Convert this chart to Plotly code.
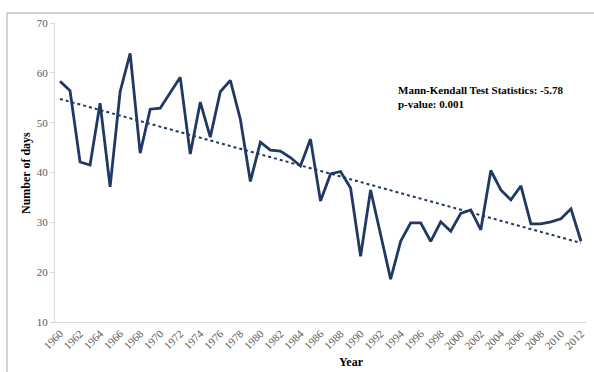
import numpy as np
import plotly.graph_objects as go

years = list(range(1960, 2013))
days = [
    58.3, 56.4, 42.1, 41.5, 53.9, 37.1, 56.2, 63.9, 43.9, 52.7,
    52.9, 56.0, 59.1, 43.7, 54.1, 47.1, 56.2, 58.5, 50.7, 38.2,
    46.1, 44.5, 44.3, 43.0, 41.3, 46.7, 34.3, 39.7, 40.2, 36.9,
    23.2, 36.5, 27.5, 18.6, 26.2, 29.9, 29.9, 26.2, 30.1, 28.2,
    31.8, 32.5, 28.5, 40.4, 36.5, 34.5, 37.3, 29.7, 29.7, 30.1,
    30.7, 32.7, 26.2,
]
tick_years = list(range(1960, 2013, 2))
stat_text = "Mann-Kendall Test Statistics: -5.78<br>p-value: 0.001"

navy = "#1F3864"
serif = "Liberation Serif"

# linear trend fitted to the series
slope, intercept = np.polyfit(years, days, 1)
trend = [slope * y + intercept for y in years]

fig = go.Figure()
fig.add_trace(go.Scatter(
    x=years, y=days, mode="lines",
    line=dict(color=navy, width=2.8), showlegend=False,
))
fig.add_trace(go.Scatter(
    x=years, y=trend, mode="lines",
    line=dict(color=navy, width=2, dash="dot"), showlegend=False,
))

L, R, T, B = 55, 8, 23, 50
W, H = 594, 372
pw = W - L - R
ph = H - T - B


def px(x):
    return (x - L) / pw


def py(y):
    return (H - B - y) / ph


fig.update_layout(
    width=W, height=H,
    margin=dict(l=L, r=R, t=T, b=B),
    plot_bgcolor="white", paper_bgcolor="white",
    font=dict(family=serif, color="#595959", size=11),
    xaxis=dict(
        range=[1959.5, 2012.5], tickmode="array", tickvals=tick_years,
        ticktext=[str(y) for y in tick_years], tickangle=-45,
        showgrid=False, zeroline=False, showline=True,
        linecolor="#d9d9d9", linewidth=1, ticks="",
        tickfont=dict(family=serif, size=11, color="#595959"),
    ),
    yaxis=dict(
        range=[10, 70], tickvals=[10, 20, 30, 40, 50, 60, 70],
        showgrid=False, zeroline=False, showline=True,
        linecolor="#d9d9d9", linewidth=1, ticks="outside",
        ticklen=4, tickcolor="#d9d9d9",
        tickfont=dict(family=serif, size=11, color="#595959"),
    ),
    annotations=[
        dict(text="<b>Number of days</b>", x=px(26), y=py(173),
             xref="paper", yref="paper", xanchor="center", yanchor="middle",
             showarrow=False, textangle=-90,
             font=dict(family=serif, size=12, color="black")),
        dict(text="<b>Year</b>", x=px(351), y=py(362),
             xref="paper", yref="paper", xanchor="center", yanchor="middle",
             showarrow=False, font=dict(family=serif, size=12, color="black")),
        dict(text="<b>" + stat_text + "</b>", x=px(396), y=py(97),
             xref="paper", yref="paper", xanchor="left", yanchor="middle",
             showarrow=False, align="left",
             font=dict(family=serif, size=11, color="black")),
    ],
    shapes=[
        dict(type="line", xref="paper", yref="paper",
             x0=px(7), x1=px(W), y0=py(13), y1=py(13),
             line=dict(color="#a6a6a6", width=1)),
        dict(type="line", xref="paper", yref="paper",
             x0=px(7), x1=px(7), y0=py(13), y1=py(H),
             line=dict(color="#a6a6a6", width=1)),
    ],
)

fig.write_html("out.html")
